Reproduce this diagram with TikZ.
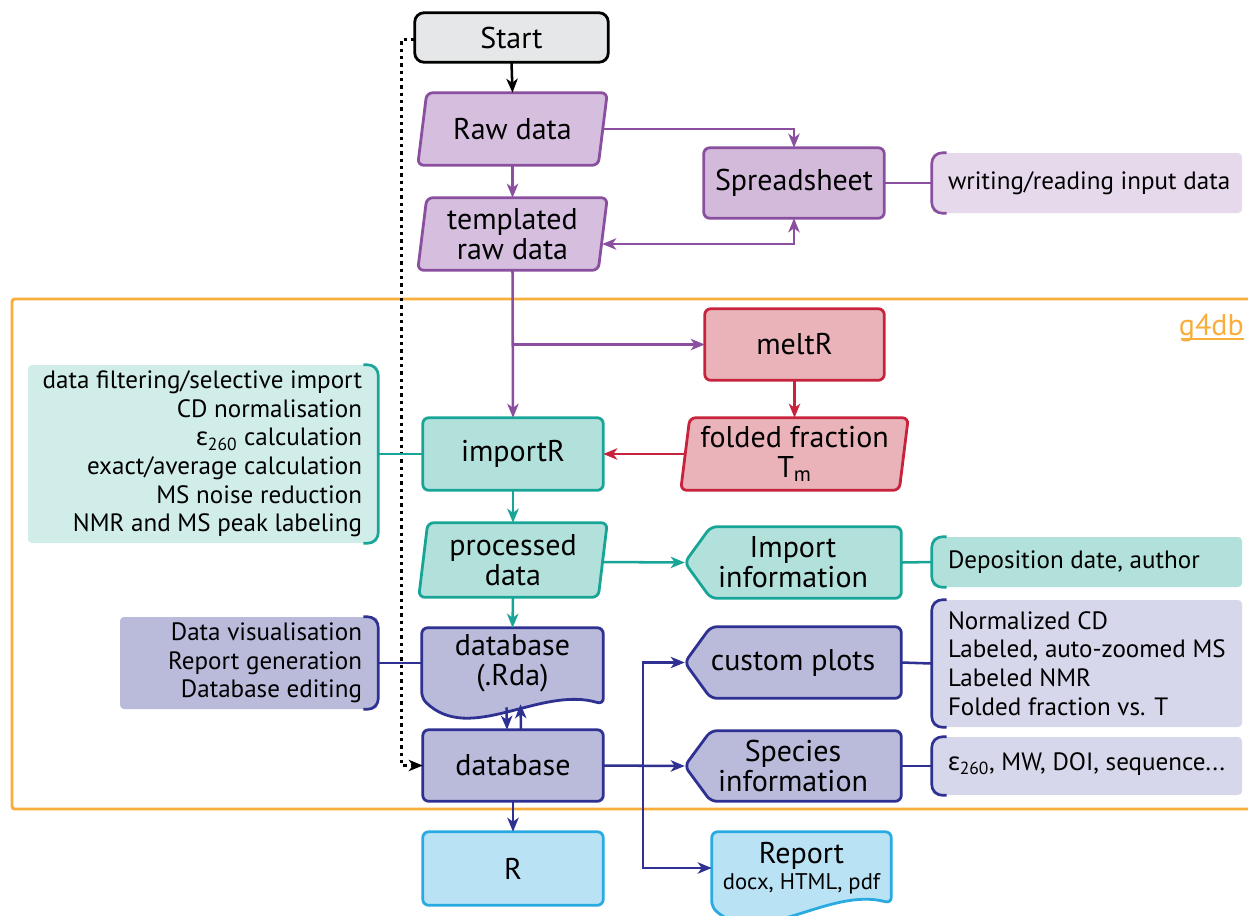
\documentclass[tikz,border=0pt]{standalone}
\usepackage{fontspec}
\setmainfont{PT Sans}
\newfontfamily\grk{Noto Sans}
\usetikzlibrary{arrows.meta,backgrounds,calc}
\definecolor{pur}{HTML}{8B4FA0}
\definecolor{purF}{HTML}{D5BEDE}
\definecolor{purS}{HTML}{D3BADB}
\definecolor{purA}{HTML}{E6D9EC}
\definecolor{redS}{HTML}{C8233C}
\definecolor{redF}{HTML}{E9B3B9}
\definecolor{teal}{HTML}{18A497}
\definecolor{tealF}{HTML}{B2E1DC}
\definecolor{tealA}{HTML}{D0EDE9}
\definecolor{blu}{HTML}{2E3191}
\definecolor{bluF}{HTML}{BABADB}
\definecolor{bluA}{HTML}{D7D7EC}
\definecolor{lbl}{HTML}{29ABE2}
\definecolor{lblF}{HTML}{B9E3F5}
\definecolor{orng}{HTML}{F9AD3B}
\definecolor{gryF}{HTML}{E6E7E8}
\newcommand\mainfs{\fontsize{22.5}{22.5}\selectfont}
\newcommand\annfs{\fontsize{18.8}{21.45}\selectfont}
\newcommand\repfs{\fontsize{17}{20}\selectfont}
\newcommand\epsl{{\grk ε}\textsubscript{260}}
\tikzset{
  txt/.style={inner sep=0pt, align=center, font=\mainfs, text=black},
  sz/.style 2 args={minimum width={#1*0.75pt}, minimum height={#2*0.75pt}},
  anbox/.style={inner sep=0pt, draw=none, rounded corners=3pt},
  antext/.style={inner sep=0pt, font=\annfs, text=black},
  shp/.style={line width=2.1pt, rounded corners=4.5pt},
  con/.style={line width=1.9pt},
  ar/.style={con, -{Stealth[length=10.5pt,width=8.5pt,inset=3pt]}},
  biar/.style={con, {Stealth[length=10.5pt,width=8.5pt,inset=3pt]}-{Stealth[length=10.5pt,width=8.5pt,inset=3pt]}},
  brk/.style={line width=2pt, rounded corners=8pt},
}
\newcommand\para[3]{\draw[shp,draw=#2,fill=#3] (#1.south west) -- ($(#1.north west)+(9,0)$) -- (#1.north east) -- ($(#1.south east)+(-9,0)$) -- cycle;}
\newcommand\hexa[3]{\draw[shp,draw=#2,fill=#3] (#1.west) -- ($(#1.north west)+(26,0)$) -- (#1.north east) -- (#1.south east) -- ($(#1.south west)+(26,0)$) -- cycle;}
\newcommand\rbox[3]{\draw[shp,draw=#2,fill=#3] (#1.south west) rectangle (#1.north east);}
\newcommand\lbrk[2]{\draw[brk,draw=#2] ($(#1.north west)+(15,0)$) -- (#1.north west) -- (#1.south west) -- ($(#1.south west)+(15,0)$);}
\newcommand\rbrk[2]{\draw[brk,draw=#2] ($(#1.north east)+(-15,0)$) -- (#1.north east) -- (#1.south east) -- ($(#1.south east)+(-15,0)$);}
\begin{document}
\begin{tikzpicture}[x=0.75pt,y=-0.75pt]
\useasboundingbox (0,0) rectangle (1248,915);
% ---------- nodes ----------
\node[txt,sz={193}{49}] (start) at (511.5,37.5) {Start};
\node[txt,sz={189}{72}] (raw) at (512.5,129) {Raw data};
\node[txt,sz={189}{72}] (tmpl) at (512.5,234) {templated\\raw data};
\node[txt,sz={180}{70}] (ss) at (794,183) {Spreadsheet};
\node[anbox,sz={310}{60},fill=purA] (a0) at (1087,183) {};
\node[antext,anchor=west] (t0) at ($(a0.west)+(16,0)$) {writing/reading input data};
\node[txt,sz={179}{71}] (melt) at (794.5,344.5) {meltR};
\node[txt,sz={227}{72}] (ff) at (794.5,454) {folded fraction\\T\textsubscript{m}};
\node[txt,sz={180}{72}] (imp) at (513,454) {importR};
\node[anbox,sz={350}{178},fill=tealA] (a1) at (203,454) {};
\node[antext,anchor=east,align=right] (t1) at ($(a1.east)+(-16,0)$) {data filtering/selective import\\CD normalisation\\\epsl{} calculation\\exact/average calculation\\MS noise reduction\\NMR and MS peak labeling};
\node[txt,sz={188}{74}] (proc) at (513,560) {processed\\data};
\node[txt,sz={216}{71}] (info) at (793,562.5) {Import\\information};
\node[anbox,sz={310}{50},fill=tealF] (a2) at (1087,562) {};
\node[antext,anchor=west] (t2) at ($(a2.west)+(16,0)$) {Deposition date, author};
\node[txt,sz={181}{70}] (rda) at (512.5,663) {database\\(.Rda)};
\node[anbox,sz={258}{92},fill=bluF] (a3) at (249,663) {};
\node[antext,anchor=east,align=right] (t3) at ($(a3.east)+(-16,0)$) {Data visualisation\\Report generation\\Database editing};
\node[txt,sz={180}{71}] (db) at (513,765.5) {database};
\node[txt,sz={180}{73}] (r) at (513,868.5) {R};
\node[txt,sz={216}{71}] (cp) at (793,662.5) {custom plots};
\node[txt,sz={216}{70}] (sp) at (793,766) {Species\\information};
\node[anbox,sz={310}{127},fill=bluA] (a4) at (1087,663.5) {};
\node[antext,anchor=west,align=left] (t4) at ($(a4.west)+(16,0)$) {Normalized CD\\Labeled, auto-zoomed MS\\Labeled NMR\\Folded fraction vs. T};
\node[anbox,sz={310}{58},fill=bluA] (a5) at (1087,766) {};
\node[antext,anchor=west] (t5) at ($(a5.west)+(16,-2)$) {\epsl, MW, DOI, sequence...};
\node[txt,sz={179}{72}] (rep) at (801.5,868) {Report\\[-3pt]{\repfs docx, HTML, pdf}};
\node[inner sep=0pt,font=\mainfs,text=orng,anchor=base east] (g4) at (1244,335) {g4db};
\coordinate (j) at (643,766);
% ---------- shapes ----------
\begin{pgfonlayer}{background}
\draw[orng,line width=2.2pt,rounded corners=2pt] (12,299) rectangle (1254,809);
\draw[shp,draw=black,fill=gryF,rounded corners=7pt] (start.south west) rectangle (start.north east);
\para{raw}{pur}{purF}
\para{tmpl}{pur}{purF}
\rbox{ss}{pur}{purS}
\rbox{melt}{redS}{redF}
\para{ff}{redS}{redF}
\rbox{imp}{teal}{tealF}
\para{proc}{teal}{tealF}
\hexa{info}{teal}{tealF}
\draw[shp,draw=blu,fill=bluF] ($(rda.south east)+(0,6)$) .. controls ($(rda.south east)+(-63,-13)$) and ($(rda.south west)+(48,47)$) .. (rda.south west) -- (rda.north west) -- (rda.north east) -- cycle;
\rbox{db}{blu}{bluF}
\rbox{r}{lbl}{lblF}
\hexa{cp}{blu}{bluF}
\hexa{sp}{blu}{bluF}
\draw[shp,draw=lbl,fill=lblF] ($(rep.south east)+(0,-1)$) .. controls ($(rep.south east)+(-63,-18)$) and ($(rep.south west)+(48,45)$) .. ($(rep.south west)+(0,3)$) -- (rep.north west) -- (rep.north east) -- cycle;
\end{pgfonlayer}
\draw[orng,line width=1.3pt] (1181,339) -- (1244,339);
% ---------- brackets ----------
\lbrk{a0}{pur}
\rbrk{a1}{teal}
\lbrk{a2}{teal}
\rbrk{a3}{blu}
\lbrk{a4}{blu}
\lbrk{a5}{blu}
% ---------- connectors ----------
\draw[line width=1.9pt,dash pattern=on 2.5pt off 3pt,-{Stealth[length=10.5pt,width=8.5pt,inset=3pt]}] ($(start.west)+(0,2)$) -- ++(-13,0) |- (db.west);
\draw[ar,black] (start.south) -- (raw.north);
\draw[ar,pur] (raw.south) -- (tmpl.north);
\draw[ar,pur] ($(raw.east)+(-4,0)$) -| (ss.north);
\draw[biar,pur] (ss.south) |- ($(tmpl.east)+(-5,10)$);
\draw[con,pur] (ss.east) -- (a0.west);
\draw[ar,pur] (tmpl.south) -- (imp.north);
\draw[ar,pur] (tmpl.south |- melt.west) -- (melt.west);
\draw[ar,redS] (melt.south) -- (ff.north);
\draw[ar,redS] ($(ff.west)+(4,0)$) -- (imp.east);
\draw[con,teal] (a1.east) -- (imp.west);
\draw[ar,teal] (imp.south) -- (proc.north);
\draw[ar,teal] ($(proc.east)+(-4,2)$) -- ($(info.west)+(0,0)$);
\draw[con,teal] (info.east) -- (a2.west);
\draw[ar,teal] (proc.south) -- (rda.north);
\draw[con,blu] (a3.east) -- (rda.west);
\draw[ar,blu] ($(rda.south)+(-6,9)$) -- ($(db.north)+(-6,0)$);
\draw[ar,blu] ($(db.north)+(8,0)$) -- ($(rda.south)+(8,6)$);
\draw[ar,blu] (db.south) -- (r.north);
\draw[ar,blu] (db.east) -- (sp.west);
\draw[biar,blu,line join=miter] (cp.west) -| (j |- rep.west) -- (rep.west);
\draw[con,blu] (cp.east) -- (a4.west);
\draw[con,blu] (sp.east) -- (a5.west);
\end{tikzpicture}
\end{document}
